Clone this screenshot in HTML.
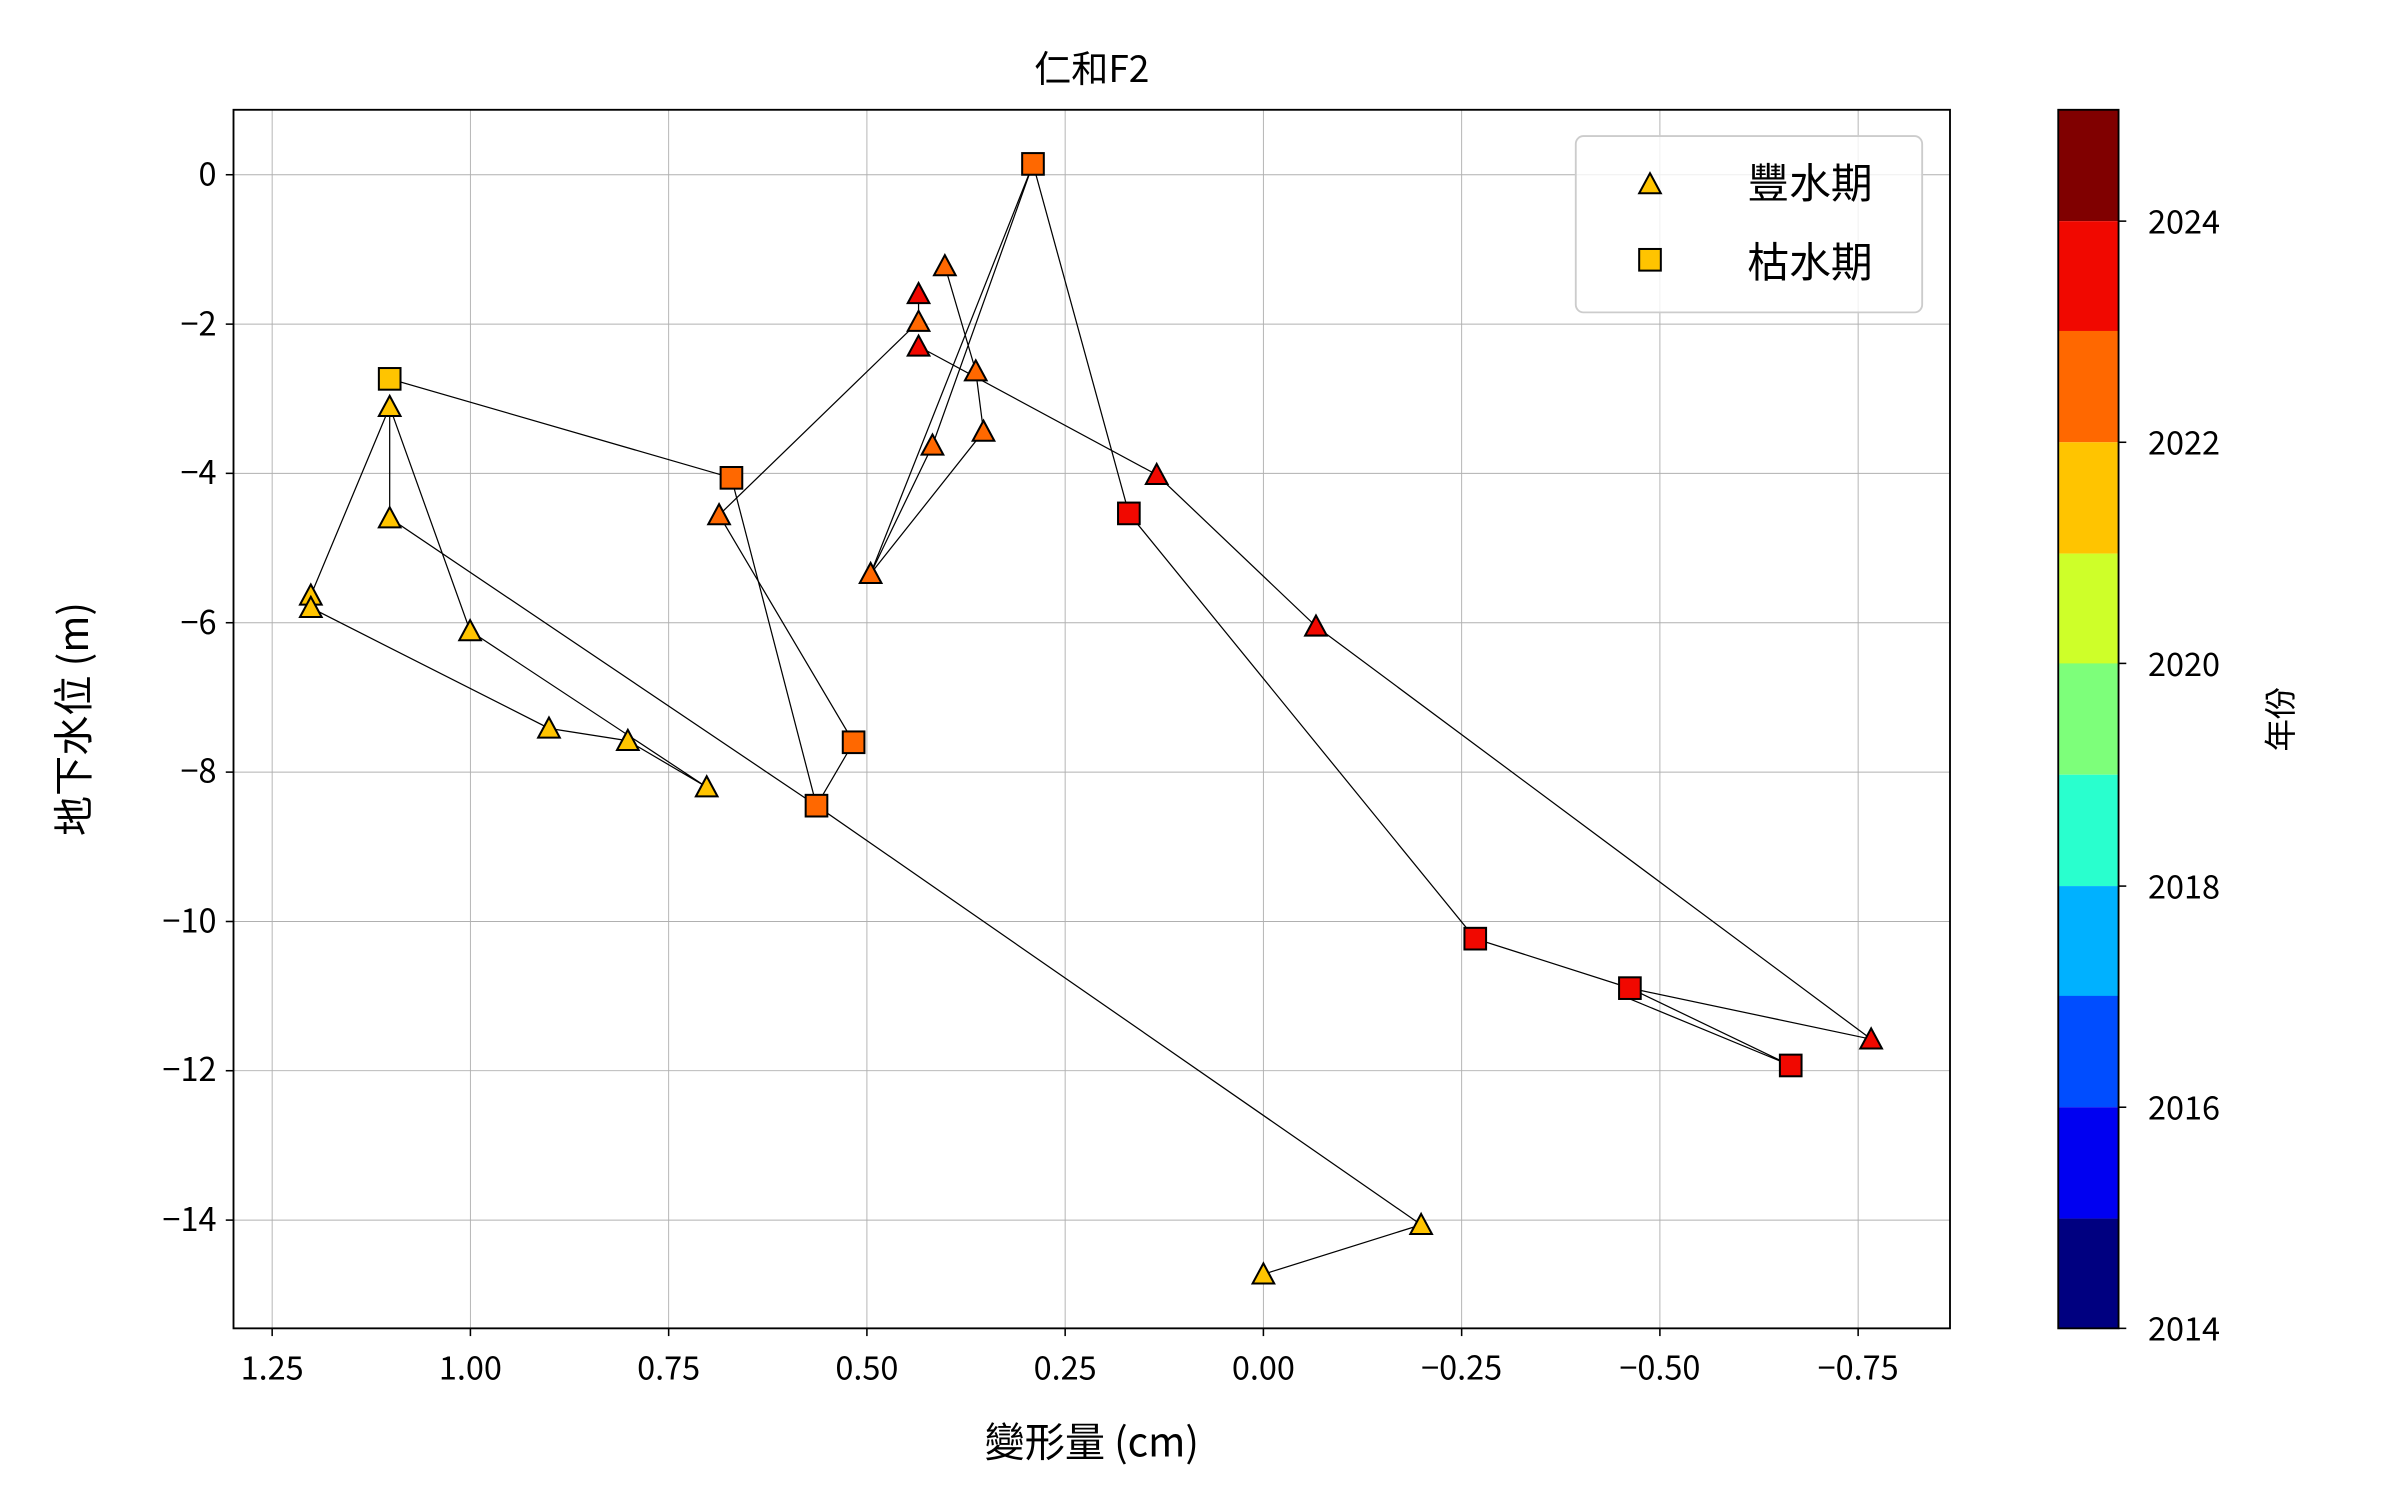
<!DOCTYPE html>
<html><head><meta charset="utf-8"><style>html,body{margin:0;padding:0;background:#fff}svg{display:block}</style></head><body>
<svg width="2400" height="1500" viewBox="0 0 1552 970" xmlns="http://www.w3.org/2000/svg" font-family="'Noto Sans CJK TC','Liberation Sans',sans-serif">
<rect width="1552" height="970" fill="#fff"/>
<g stroke="#b0b0b0" stroke-width="0.6">
<line x1="176" y1="71" x2="176" y2="859"/><line x1="304.2" y1="71" x2="304.2" y2="859"/><line x1="432.4" y1="71" x2="432.4" y2="859"/><line x1="560.6" y1="71" x2="560.6" y2="859"/><line x1="688.8" y1="71" x2="688.8" y2="859"/><line x1="817" y1="71" x2="817" y2="859"/><line x1="945.2" y1="71" x2="945.2" y2="859"/><line x1="1073.4" y1="71" x2="1073.4" y2="859"/><line x1="1201.6" y1="71" x2="1201.6" y2="859"/>
<line x1="151" y1="113" x2="1261" y2="113"/><line x1="151" y1="209.6" x2="1261" y2="209.6"/><line x1="151" y1="306.1" x2="1261" y2="306.1"/><line x1="151" y1="402.7" x2="1261" y2="402.7"/><line x1="151" y1="499.3" x2="1261" y2="499.3"/><line x1="151" y1="595.9" x2="1261" y2="595.9"/><line x1="151" y1="692.4" x2="1261" y2="692.4"/><line x1="151" y1="789" x2="1261" y2="789"/>
</g>
<g stroke="#000" stroke-width="0.8" fill="none">
<polyline points="817,824 919,792 528,521 552,480 465,333 594,208 594,190"/>
<polyline points="528,521 252,335 252,263 201,385 201,393 355,471 406,479 457,509 304,408 252,263"/>
<polyline points="252,245 473,309 528,521"/>
<polyline points="611,172 631,240 636,279 563,371 603,288 668,106 730,332 954,607 1054,639 1210,672 851,405 748,307 594,224"/>
<polyline points="563,371 668,106"/>
<polyline points="1054,639 1158,689 1054,646"/>
</g>
<g stroke="#000" stroke-width="1.3">
<g fill="#ffc400">
<path d="M817,817 l7,13 h-14z"/><path d="M919,785 l7,13 h-14z"/><path d="M252,328 l7,13 h-14z"/><path d="M252,256 l7,13 h-14z"/><path d="M201,378 l7,13 h-14z"/><path d="M201,386 l7,13 h-14z"/><path d="M304,401 l7,13 h-14z"/><path d="M355,464 l7,13 h-14z"/><path d="M406,472 l7,13 h-14z"/><path d="M457,502 l7,13 h-14z"/>
<rect x="245" y="238" width="14" height="14"/>
</g>
<g fill="#ff6800">
<path d="M611,165 l7,13 h-14z"/><path d="M594,201 l7,13 h-14z"/><path d="M631,233 l7,13 h-14z"/><path d="M636,272 l7,13 h-14z"/><path d="M603,281 l7,13 h-14z"/><path d="M563,364 l7,13 h-14z"/><path d="M465,326 l7,13 h-14z"/>
<rect x="661" y="99" width="14" height="14"/><rect x="466" y="302" width="14" height="14"/><rect x="545" y="473" width="14" height="14"/><rect x="521" y="514" width="14" height="14"/>
</g>
<g fill="#f10800">
<path d="M594,183 l7,13 h-14z"/><path d="M594,217 l7,13 h-14z"/><path d="M748,300 l7,13 h-14z"/><path d="M851,398 l7,13 h-14z"/><path d="M1210,665 l7,13 h-14z"/>
<rect x="723" y="325" width="14" height="14"/><rect x="947" y="600" width="14" height="14"/><rect x="1047" y="632" width="14" height="14"/><rect x="1151" y="682" width="14" height="14"/>
</g>
</g>
<rect x="151" y="71" width="1110" height="788" fill="none" stroke="#000" stroke-width="1.2"/>
<g stroke="#000" stroke-width="1"><line x1="176" y1="859" x2="176" y2="864"/><line x1="304.2" y1="859" x2="304.2" y2="864"/><line x1="432.4" y1="859" x2="432.4" y2="864"/><line x1="560.6" y1="859" x2="560.6" y2="864"/><line x1="688.8" y1="859" x2="688.8" y2="864"/><line x1="817" y1="859" x2="817" y2="864"/><line x1="945.2" y1="859" x2="945.2" y2="864"/><line x1="1073.4" y1="859" x2="1073.4" y2="864"/><line x1="1201.6" y1="859" x2="1201.6" y2="864"/>
<line x1="146" y1="113" x2="151" y2="113"/><line x1="146" y1="209.6" x2="151" y2="209.6"/><line x1="146" y1="306.1" x2="151" y2="306.1"/><line x1="146" y1="402.7" x2="151" y2="402.7"/><line x1="146" y1="499.3" x2="151" y2="499.3"/><line x1="146" y1="595.9" x2="151" y2="595.9"/><line x1="146" y1="692.4" x2="151" y2="692.4"/><line x1="146" y1="789" x2="151" y2="789"/></g>
<g font-size="21" text-anchor="middle" fill="#000">
<text x="176" y="892">1.25</text><text x="304.2" y="892">1.00</text><text x="432.4" y="892">0.75</text><text x="560.6" y="892">0.50</text><text x="688.8" y="892">0.25</text><text x="817" y="892">0.00</text><text x="945.2" y="892">−0.25</text><text x="1073.4" y="892">−0.50</text><text x="1201.6" y="892">−0.75</text>
</g>
<g font-size="21" text-anchor="end" fill="#000">
<text x="140" y="120">0</text><text x="140" y="217">−2</text><text x="140" y="313">−4</text><text x="140" y="410">−6</text><text x="140" y="506">−8</text><text x="140" y="603">−10</text><text x="140" y="699">−12</text><text x="140" y="796">−14</text>
</g>
<text x="706" y="53" font-size="24" text-anchor="middle">仁和F2</text>
<text x="706" y="942" font-size="26" text-anchor="middle">變形量 (cm)</text>
<text transform="translate(57,465) rotate(-90)" font-size="26" text-anchor="middle">地下水位 (m)</text>
<rect x="1019" y="88" width="224" height="114" rx="5" fill="#fff" fill-opacity="0.8" stroke="#ccc" stroke-width="1.2"/>
<path d="M1067,112 l7,13 h-14z" fill="#ffc400" stroke="#000" stroke-width="1.3"/>
<rect x="1060" y="161" width="14" height="14" fill="#ffc400" stroke="#000" stroke-width="1.3"/>
<text x="1130" y="128" font-size="27">豐水期</text>
<text x="1130" y="179" font-size="27">枯水期</text>
<g>
<rect x="1331" y="71" width="39" height="72" fill="#800000"/>
<rect x="1331" y="143" width="39" height="72" fill="#f10800"/>
<rect x="1331" y="214" width="39" height="72" fill="#ff6800"/>
<rect x="1331" y="286" width="39" height="72" fill="#ffc400"/>
<rect x="1331" y="358" width="39" height="72" fill="#ceff29"/>
<rect x="1331" y="429" width="39" height="72" fill="#7dff7a"/>
<rect x="1331" y="501" width="39" height="72" fill="#29ffce"/>
<rect x="1331" y="573" width="39" height="72" fill="#00b1ff"/>
<rect x="1331" y="644" width="39" height="72" fill="#004dff"/>
<rect x="1331" y="716" width="39" height="72" fill="#0000f1"/>
<rect x="1331" y="788" width="39" height="71" fill="#000080"/>
<rect x="1331" y="71" width="39" height="788" fill="none" stroke="#000" stroke-width="1.2"/>
</g>
<g stroke="#000" stroke-width="1"><line x1="1370" y1="143" x2="1375" y2="143"/><line x1="1370" y1="286" x2="1375" y2="286"/><line x1="1370" y1="429" x2="1375" y2="429"/><line x1="1370" y1="573" x2="1375" y2="573"/><line x1="1370" y1="716" x2="1375" y2="716"/><line x1="1370" y1="859" x2="1375" y2="859"/></g>
<g font-size="21" fill="#000">
<text x="1389" y="151">2024</text><text x="1389" y="294">2022</text><text x="1389" y="437">2020</text><text x="1389" y="581">2018</text><text x="1389" y="724">2016</text><text x="1389" y="867">2014</text>
</g>
<text transform="translate(1482,465) rotate(-90)" font-size="21" text-anchor="middle">年份</text>
</svg>
</body></html>
